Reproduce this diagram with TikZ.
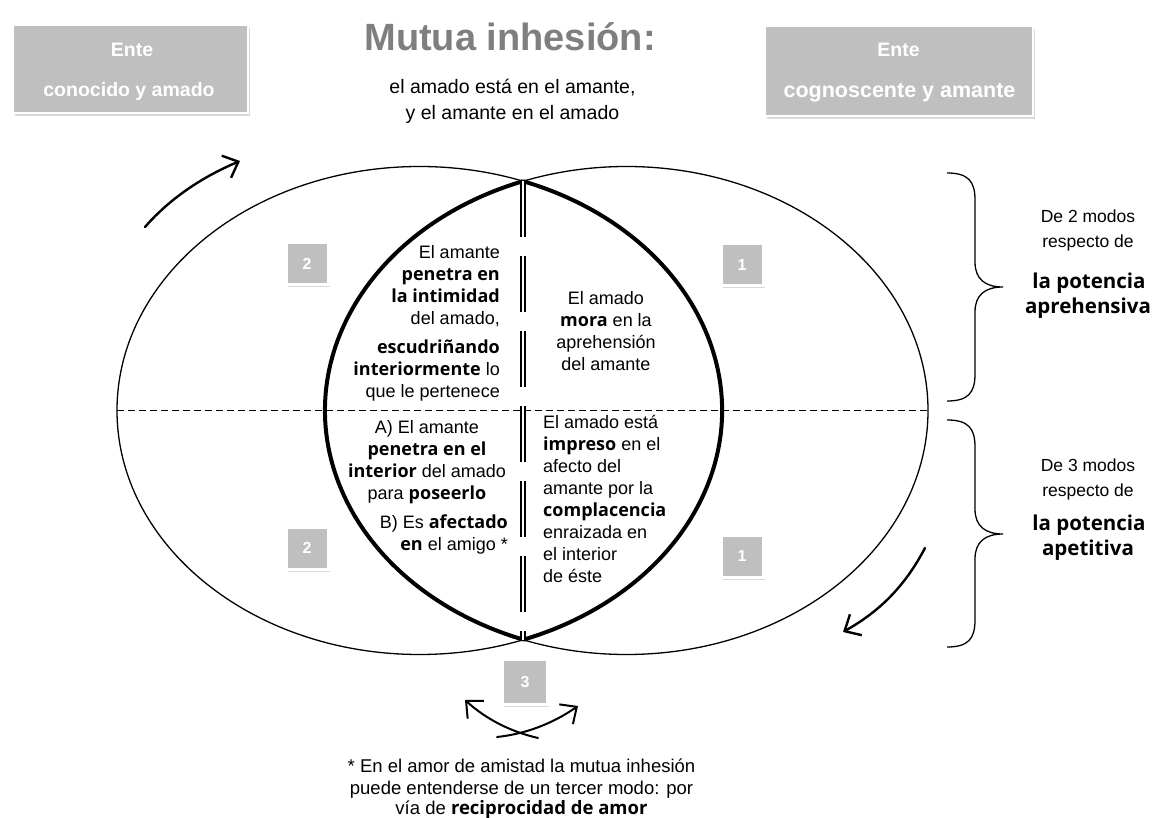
\documentclass[tikz,border=0pt]{standalone}
\usepackage{fontspec}
\setmainfont{Liberation Sans}
\newfontfamily\osans{Open Sans}
\usetikzlibrary{arrows.meta,shadows}
\definecolor{boxgray}{HTML}{BFBFBF}
\definecolor{titlegray}{HTML}{7F7F7F}
\newcommand{\B}[1]{{\osans\bfseries #1}}
\newcommand{\fs}[2]{\fontsize{#1}{#2}\selectfont}
\newcommand{\fl}{\rule{0pt}{14.4pt}}
\begin{document}
\begin{tikzpicture}[x=1pt,y=-1pt,
  ell/.style={line width=1.3pt},
  lensline/.style={line width=4pt},
  midline/.style={draw=black, double=white, line width=2.3pt, double distance=1.1pt, dash pattern=on 56pt off 19pt},
  hdash/.style={line width=1.1pt, dash pattern=on 7pt off 4pt},
  arr/.style={line width=2.4pt, line cap=round, -{Straight Barb[length=13pt,width=24pt]}},
  numbox/.style={draw=white, line width=3pt, fill=boxgray, minimum size=42pt, inner sep=0pt, text=white, font=\bfseries\fs{16}{16}, drop shadow={shadow xshift=1.5pt, shadow yshift=-2.5pt, opacity=0.3}},
  entebox/.style={draw=white, line width=2.5pt, fill=boxgray, inner sep=0pt, drop shadow={shadow xshift=1.5pt, shadow yshift=-3pt, opacity=0.3}},
  entetext/.style={text=white, font=\bfseries\fs{19.5}{22}, anchor=base, inner sep=0pt},
  lenstext/.style={inner sep=0pt, font=\fs{18}{22}},
  sidetext/.style={inner sep=0pt, anchor=base, font=\fs{17.5}{20}},
  sidebold/.style={inner sep=0pt, anchor=base, font=\osans\bfseries\fs{20.5}{24}},
  foot/.style={inner sep=0pt, anchor=base, font=\fs{18.5}{22}},
  brace/.style={line width=1.3pt}
]
\useasboundingbox (0,0) rectangle (1154,818);

% header boxes
\node[entebox, minimum width=235pt, minimum height=88pt] (eL) at (130.5,69) {};
\node[entetext] (eL1) at (132,57) {Ente};
\node[entetext] (eL2) at (129,97) {conocido y amado};
\node[entebox, minimum width=268pt, minimum height=90pt] (eR) at (899,71) {};
\node[entetext] (eR1) at (898.5,57) {Ente};
\node[entetext, font=\bfseries\fs{21.5}{24}] (eR2) at (899.5,98) {cognoscente y amante};

% title
\node[anchor=base, inner sep=0pt, text=titlegray, font=\bfseries\fs{38}{42}] (title) at (510,51) {Mutua inhesión:};
\node[anchor=base, inner sep=0pt, font=\fs{19.5}{26}] (sub1) at (512.5,94) {el amado está en el amante,};
\node[anchor=base, inner sep=0pt, font=\fs{19.5}{26}] (sub2) at (512.5,120) {y el amante en el amado};

% ellipses
\coordinate (cL) at (419.5,410.5);
\coordinate (cR) at (626.5,410.5);
\draw[ell] (cL) ellipse [x radius=302.5, y radius=244];
\draw[ell] (cR) ellipse [x radius=301.5, y radius=244];
\coordinate (xTop) at (523,181.2);
\coordinate (xBot) at (523,639.8);
\coordinate (hL) at (117,410.5);
\coordinate (hR) at (928,410.5);

% dashed horizontal
\draw[hdash] (hL) -- (hR);

% lens
\draw[lensline] (xTop) arc[start angle=-70, end angle=70, x radius=302.5, y radius=244];
\draw[lensline] (xTop) arc[start angle=-110.08, end angle=-249.92, x radius=301.5, y radius=244];

% vertical double line
\draw[midline] (xTop) -- (xBot);

% lens texts
\node[lenstext, align=right, anchor=north east] (ul) at (500,243.6)
  {\fl El amante\\ \B{penetra en}\\ \B{la intimidad}\\ del amado,\\[7pt] \B{escudriñando}\\ \B{interiormente} lo\\ que le pertenece};
\node[lenstext, align=center, anchor=north] (llA) at (427,418.6)
  {\fl A) El amante\\ \B{penetra en el}\\ \B{interior} del amado\\ para \B{poseerlo}};
\node[lenstext, align=right, anchor=north east] (llB) at (508,513.6)
  {\fl B) Es \B{afectado}\\ \B{en} el amigo *};
\node[lenstext, align=center, anchor=north] (ur) at (606,289.6)
  {\fl El amado\\ \B{mora} en la\\ aprehensión\\ del amante};
\node[lenstext, align=left, anchor=north west] (lr) at (543,413.6)
  {\fl El amado está\\ \B{impreso} en el\\ afecto del\\ amante por la\\ \B{complacencia}\\ enraizada en\\ el interior\\ de éste};

% number boxes
\node[numbox] (n2a) at (307,264) {2};
\node[numbox] (n2b) at (307,548) {2};
\node[numbox] (n1a) at (742,265) {1};
\node[numbox] (n1b) at (742,556) {1};
\node[numbox, minimum size=45pt] (n3) at (525,682) {3};

% braces
\coordinate (bT1) at (947,173);
\coordinate (bTip1) at (1003,287);
\coordinate (bB1) at (947,401);
\draw[brace] (bT1) .. controls (968,173) and (975,181) .. (975,200) -- (975,262)
  .. controls (975,279) and (985,287) .. (bTip1)
  .. controls (985,287) and (975,295) .. (975,312) -- (975,374)
  .. controls (975,393) and (968,401) .. (bB1);
\coordinate (bT2) at (947,420);
\coordinate (bTip2) at (1003,534);
\coordinate (bB2) at (947,647);
\draw[brace] (bT2) .. controls (968,420) and (975,428) .. (975,447) -- (975,509)
  .. controls (975,526) and (985,534) .. (bTip2)
  .. controls (985,534) and (975,542) .. (975,559) -- (975,620)
  .. controls (975,639) and (968,647) .. (bB2);

% side texts
\node[sidetext] (s1a) at (1088,223) {De 2 modos};
\node[sidetext] (s1b) at (1088,248) {respecto de};
\node[sidebold] (s1c) at (1089,289) {la potencia};
\node[sidebold] (s1d) at (1088,314) {aprehensiva};
\node[sidetext] (s2a) at (1088,471) {De 3 modos};
\node[sidetext] (s2b) at (1088,496) {respecto de};
\node[sidebold] (s2c) at (1089,530) {la potencia};
\node[sidebold] (s2d) at (1088,555) {apetitiva};

% curved arrows
\coordinate (a1s) at (145,227);
\coordinate (a1e) at (240,161);
\draw[arr] (a1s) .. controls (165,204) and (195,180) .. (a1e);
\coordinate (a2s) at (925,548);
\coordinate (a2e) at (843,632);
\draw[arr] (a2s) .. controls (906,584) and (882,610) .. (a2e);
\coordinate (a3s) at (538,738);
\coordinate (a3e) at (465,700);
\draw[arr, line width=2pt] (a3s) .. controls (512,732) and (487,720) .. (a3e);
\coordinate (a4s) at (497,737);
\coordinate (a4e) at (578,706);
\draw[arr, line width=2pt] (a4s) .. controls (525,734) and (552,724) .. (a4e);

% footnote
\node[foot] (f1) at (521.5,772) {* En el amor de amistad la mutua inhesión};
\node[foot] (f2) at (521.5,794) {puede entenderse de un tercer modo: por};
\node[foot] (f3) at (521.5,814) {vía de \B{reciprocidad de amor}};
\end{tikzpicture}
\end{document}
